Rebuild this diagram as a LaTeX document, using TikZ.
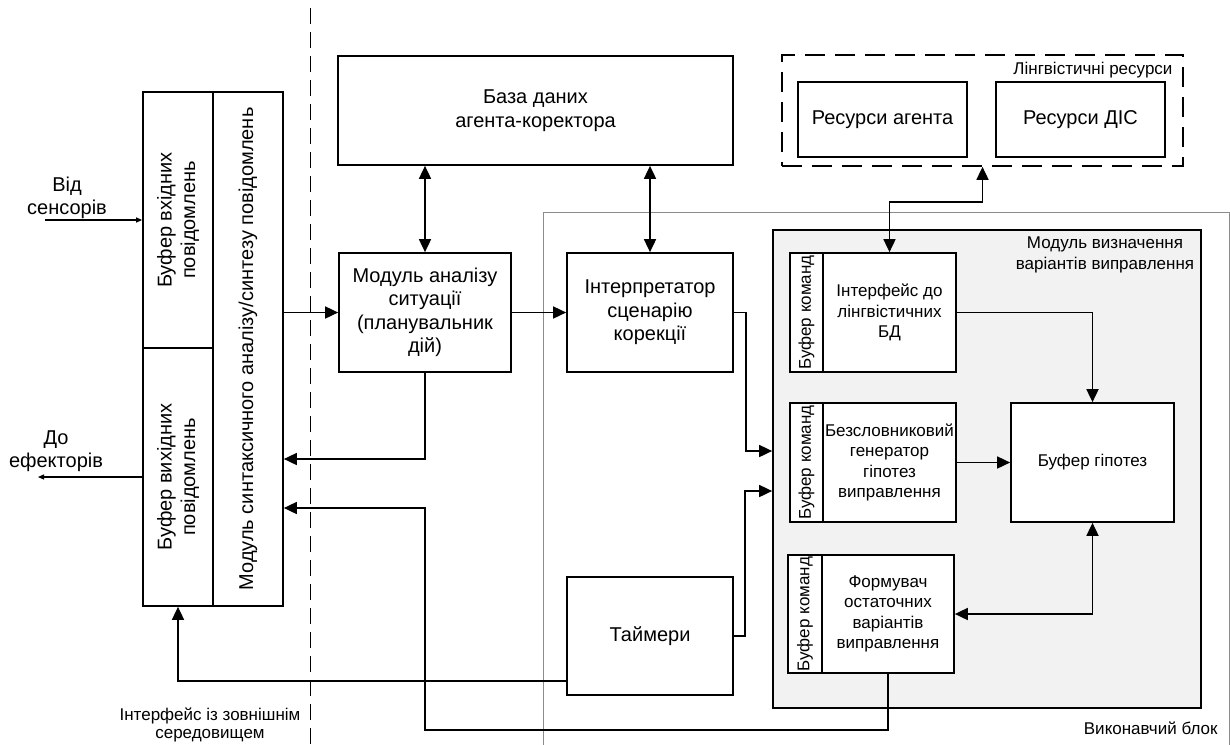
\documentclass[tikz,border=0pt]{standalone}
\usepackage{fontspec}
\setmainfont{Liberation Sans}
\usetikzlibrary{arrows.meta}
\begin{document}
\begin{tikzpicture}[x=1pt,y=-1pt,
  big/.style={font=\fontsize{20}{23.5}\selectfont},
  small/.style={font=\fontsize{17}{20.5}\selectfont},
  box/.style={draw, line width=1.7pt, inner sep=0pt, align=center, fill=white},
  arr/.style={line width=1.7pt, -{Triangle[length=13pt,width=12pt]}},
  darr/.style={line width=1.7pt, {Triangle[length=13pt,width=12pt]}-{Triangle[length=13pt,width=12pt]}},
  thinarr/.style={line width=1.1pt, -{Triangle[length=6pt,width=5pt]}},
  sep/.style={line width=1pt, dash pattern=on 16pt off 8pt},
]
\useasboundingbox (0,0) rectangle (1230,744);

% executive block and module frame
\node[draw=black!45, line width=1pt, minimum width=686pt, minimum height=534pt, inner sep=0pt] (exec) at (886,479) {};
\node[draw, line width=1.7pt, fill=black!5, minimum width=428pt, minimum height=478pt, inner sep=0pt] (module) at (987,469) {};

% separator line
\coordinate (septop) at (310,8);
\coordinate (sepbot) at (310,744);
\draw[sep] (septop) -- (sepbot);

% left block
\node[box, minimum width=70pt, minimum height=256pt] (inbuf) at (178,220) {};
\node[big, rotate=90, align=center] at (inbuf.center) {Буфер вхідних\\повідомлень};
\node[box, minimum width=70pt, minimum height=258pt] (outbuf) at (178,477) {};
\node[big, rotate=90, align=center] at (outbuf.center) {Буфер вихідних\\повідомлень};
\node[box, minimum width=70pt, minimum height=514pt] (synt) at (248,349) {};
\node[big, rotate=90] at (synt.center) {Модуль синтаксичного аналізу/синтезу повідомлень};

% center boxes
\node[box, big, minimum width=395pt, minimum height=109pt] (db) at (535.5,110.5) {База даних\\агента-коректора};
\node[box, big, minimum width=172pt, minimum height=119pt] (analiz) at (425,312.5) {Модуль аналізу\\ситуації\\(планувальник\\дій)};
\node[box, big, minimum width=166pt, minimum height=119pt] (interp) at (650,312.5) {Інтерпретатор\\сценарію\\корекції};
\node[box, big, minimum width=166pt, minimum height=118pt] (timer) at (650,636) {Таймери};

% linguistic resources
\node[draw, line width=1.7pt, dash pattern=on 20pt off 10pt, minimum width=401pt, minimum height=111pt, inner sep=0pt] (ling) at (982.5,110.5) {};
\node[small, anchor=east] (linglbl) at (1176,70) {Лінгвістичні ресурси};
\node[box, big, minimum width=169pt, minimum height=75pt] (resA) at (882.5,119.5) {Ресурси агента};
\node[box, big, minimum width=169pt, minimum height=75pt] (resD) at (1080.5,119.5) {Ресурси ДІС};

% module contents
\node[small, align=center] (modlbl) at (1105,255) {Модуль визначення\\варіантів виправлення};
\node[box, minimum width=33pt, minimum height=119pt] (ifaceb) at (806.5,312.5) {};
\node[small, rotate=90] at (ifaceb.center) {Буфер команд};
\node[box, small, minimum width=133pt, minimum height=119pt] (iface) at (889.5,312.5) {Інтерфейс до\\лінгвістичних\\БД};
\node[box, minimum width=33pt, minimum height=119pt] (bezb) at (806.5,462.5) {};
\node[small, rotate=90] at (bezb.center) {Буфер команд};
\node[box, small, minimum width=133pt, minimum height=119pt] (bez) at (889.5,462.5) {Безсловниковий\\генератор\\гіпотез\\виправлення};
\node[box, minimum width=34pt, minimum height=118pt] (formb) at (805,614) {};
\node[small, rotate=90] at (formb.center) {Буфер команд};
\node[box, small, minimum width=132pt, minimum height=118pt] (form) at (888,614) {Формувач\\остаточних\\варіантів\\виправлення};
\node[box, small, minimum width=163pt, minimum height=119pt] (hyp) at (1092.5,462.5) {Буфер гіпотез};

% outside labels
\node[big, align=center] (from) at (67,198) {Від\\сенсорів};
\node[big, align=center] (to) at (56,451) {До\\ефекторів};
\node[small, align=center, font=\fontsize{17}{18.5}\selectfont] (ifacelbl) at (210,725) {Інтерфейс із зовнішнім\\середовищем};
\node[small, anchor=east] (execlbl) at (1221,728) {Виконавчий блок};

% connectors
\coordinate (sensor) at (45,220);
\coordinate (effector) at (38,477);
\draw[thinarr] (sensor) -- (inbuf.west);
\draw[thinarr] (outbuf.west) -- (effector);

\draw[arr] (synt.east |- analiz.west) -- (analiz.west);
\draw[arr] (analiz.east) -- (interp.west);
\draw[darr] (analiz.north) -- (analiz.north |- db.south);
\draw[darr] (interp.north) -- (interp.north |- db.south);
\draw[arr] (analiz.south) |- (synt.east |- 0,459);
\draw[arr] (form.south) |- (425,730) |- (synt.east |- 0,508);
\draw[arr] (timer.west |- 0,681) -| (outbuf.south);

\draw[arr] (interp.east) -| (746,451) -- (module.west |- 0,451);
\draw[arr] (timer.east) -| (745,491) -- (module.west |- 0,491);

\draw[darr] (iface.north) |- (ling.south |- 0,202) -- (ling.south);
\draw[arr] (iface.east) -| (hyp.north);
\draw[arr] (bez.east) -- (hyp.west);
\draw[darr] (hyp.south) |- (form.east);
\end{tikzpicture}
\end{document}
